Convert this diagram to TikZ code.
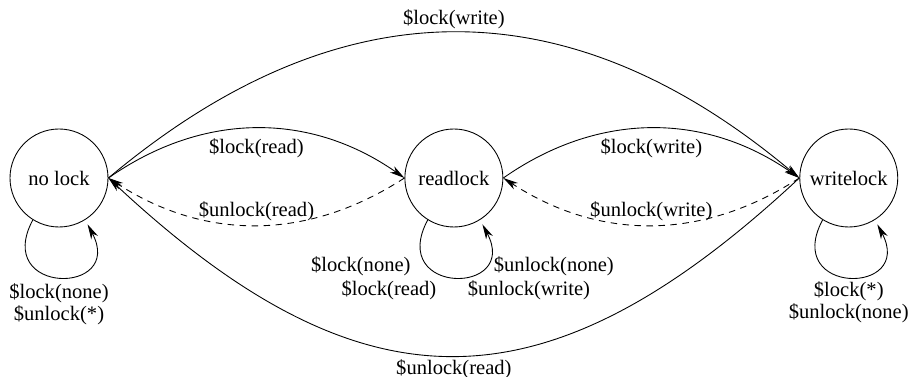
\documentclass[tikz,border=0pt]{standalone}
\usepackage{fontspec}
\setmainfont{Liberation Serif}
\usepackage{tikz}
\usetikzlibrary{positioning,arrows.meta}
\tikzset{
  state/.style ={circle, draw, line width=0.5pt, minimum size=1.96cm, inner sep=0pt,
                 font=\fontsize{11.7}{12.5}\selectfont},
  lbl/.style   ={font=\fontsize{11.7}{12.5}\selectfont, inner sep=2pt},
  trans/.style ={-{Stealth[length=3mm,width=1.5mm,inset=0.9mm]}, line width=0.5pt},
  back/.style  ={trans, dash pattern=on 1.3mm off 1.1mm},
  selfloop/.style={trans, shorten >=1mm, looseness=4.2},
}
\begin{document}
\begin{tikzpicture}[node distance=5.92cm]
\useasboundingbox (-1.18,-3.98) rectangle (17.0,3.56);
\node[state] (nolock) {no lock};
\node[state, right=of nolock] (readlock) {readlock};
\node[state, right=of readlock] (writelock) {writelock};

% neighbours
\draw[trans] (nolock.east) to[bend left=35] node[lbl,below,yshift=-1.2mm] (lr) {\$lock(read)} (readlock.west);
\draw[back] (readlock.west) to[bend left=33] node[lbl,above] (ur) {\$unlock(read)} (nolock.east);
\draw[trans] (readlock.east) to[bend left=35] node[lbl,below,yshift=-1.2mm] (lw) {\$lock(write)} (writelock.west);
\draw[back] (writelock.west) to[bend left=33] node[lbl,above] (uw) {\$unlock(write)} (readlock.east);

% the long way round
\draw[trans] (nolock.east) to[bend left=40, looseness=1.12] node[lbl,above] (lwtop) {\$lock(write)} (writelock.west);
\draw[trans] (writelock.west) to[bend left=43, looseness=1.29] node[lbl,below] (urbot) {\$unlock(read)} (nolock.east);

% self loops
\draw[selfloop] (nolock.238) to[out=242, in=-62] (nolock.302);
\draw[selfloop] (readlock.238) to[out=242, in=-62] (readlock.302);
\draw[selfloop] (writelock.238) to[out=242, in=-62] (writelock.302);

\node[lbl, align=center] (nlloop) at ([yshift=-2.52cm]nolock.center) {\$lock(none)\\ \$unlock(*)};
\node[lbl] (rl1) at ([shift={(-1.86,-1.76)}]readlock.center) {\$lock(none)};
\node[lbl] (rl2) at ([shift={(-1.30,-2.24)}]readlock.center) {\$lock(read)};
\node[lbl] (rl3) at ([shift={(2.0,-1.76)}]readlock.center) {\$unlock(none)};
\node[lbl] (rl4) at ([shift={(1.5,-2.24)}]readlock.center) {\$unlock(write)};
\node[lbl, align=center] (wlloop) at ([yshift=-2.48cm]writelock.center) {\$lock(*)\\ \$unlock(none)};
\end{tikzpicture}
\end{document}
